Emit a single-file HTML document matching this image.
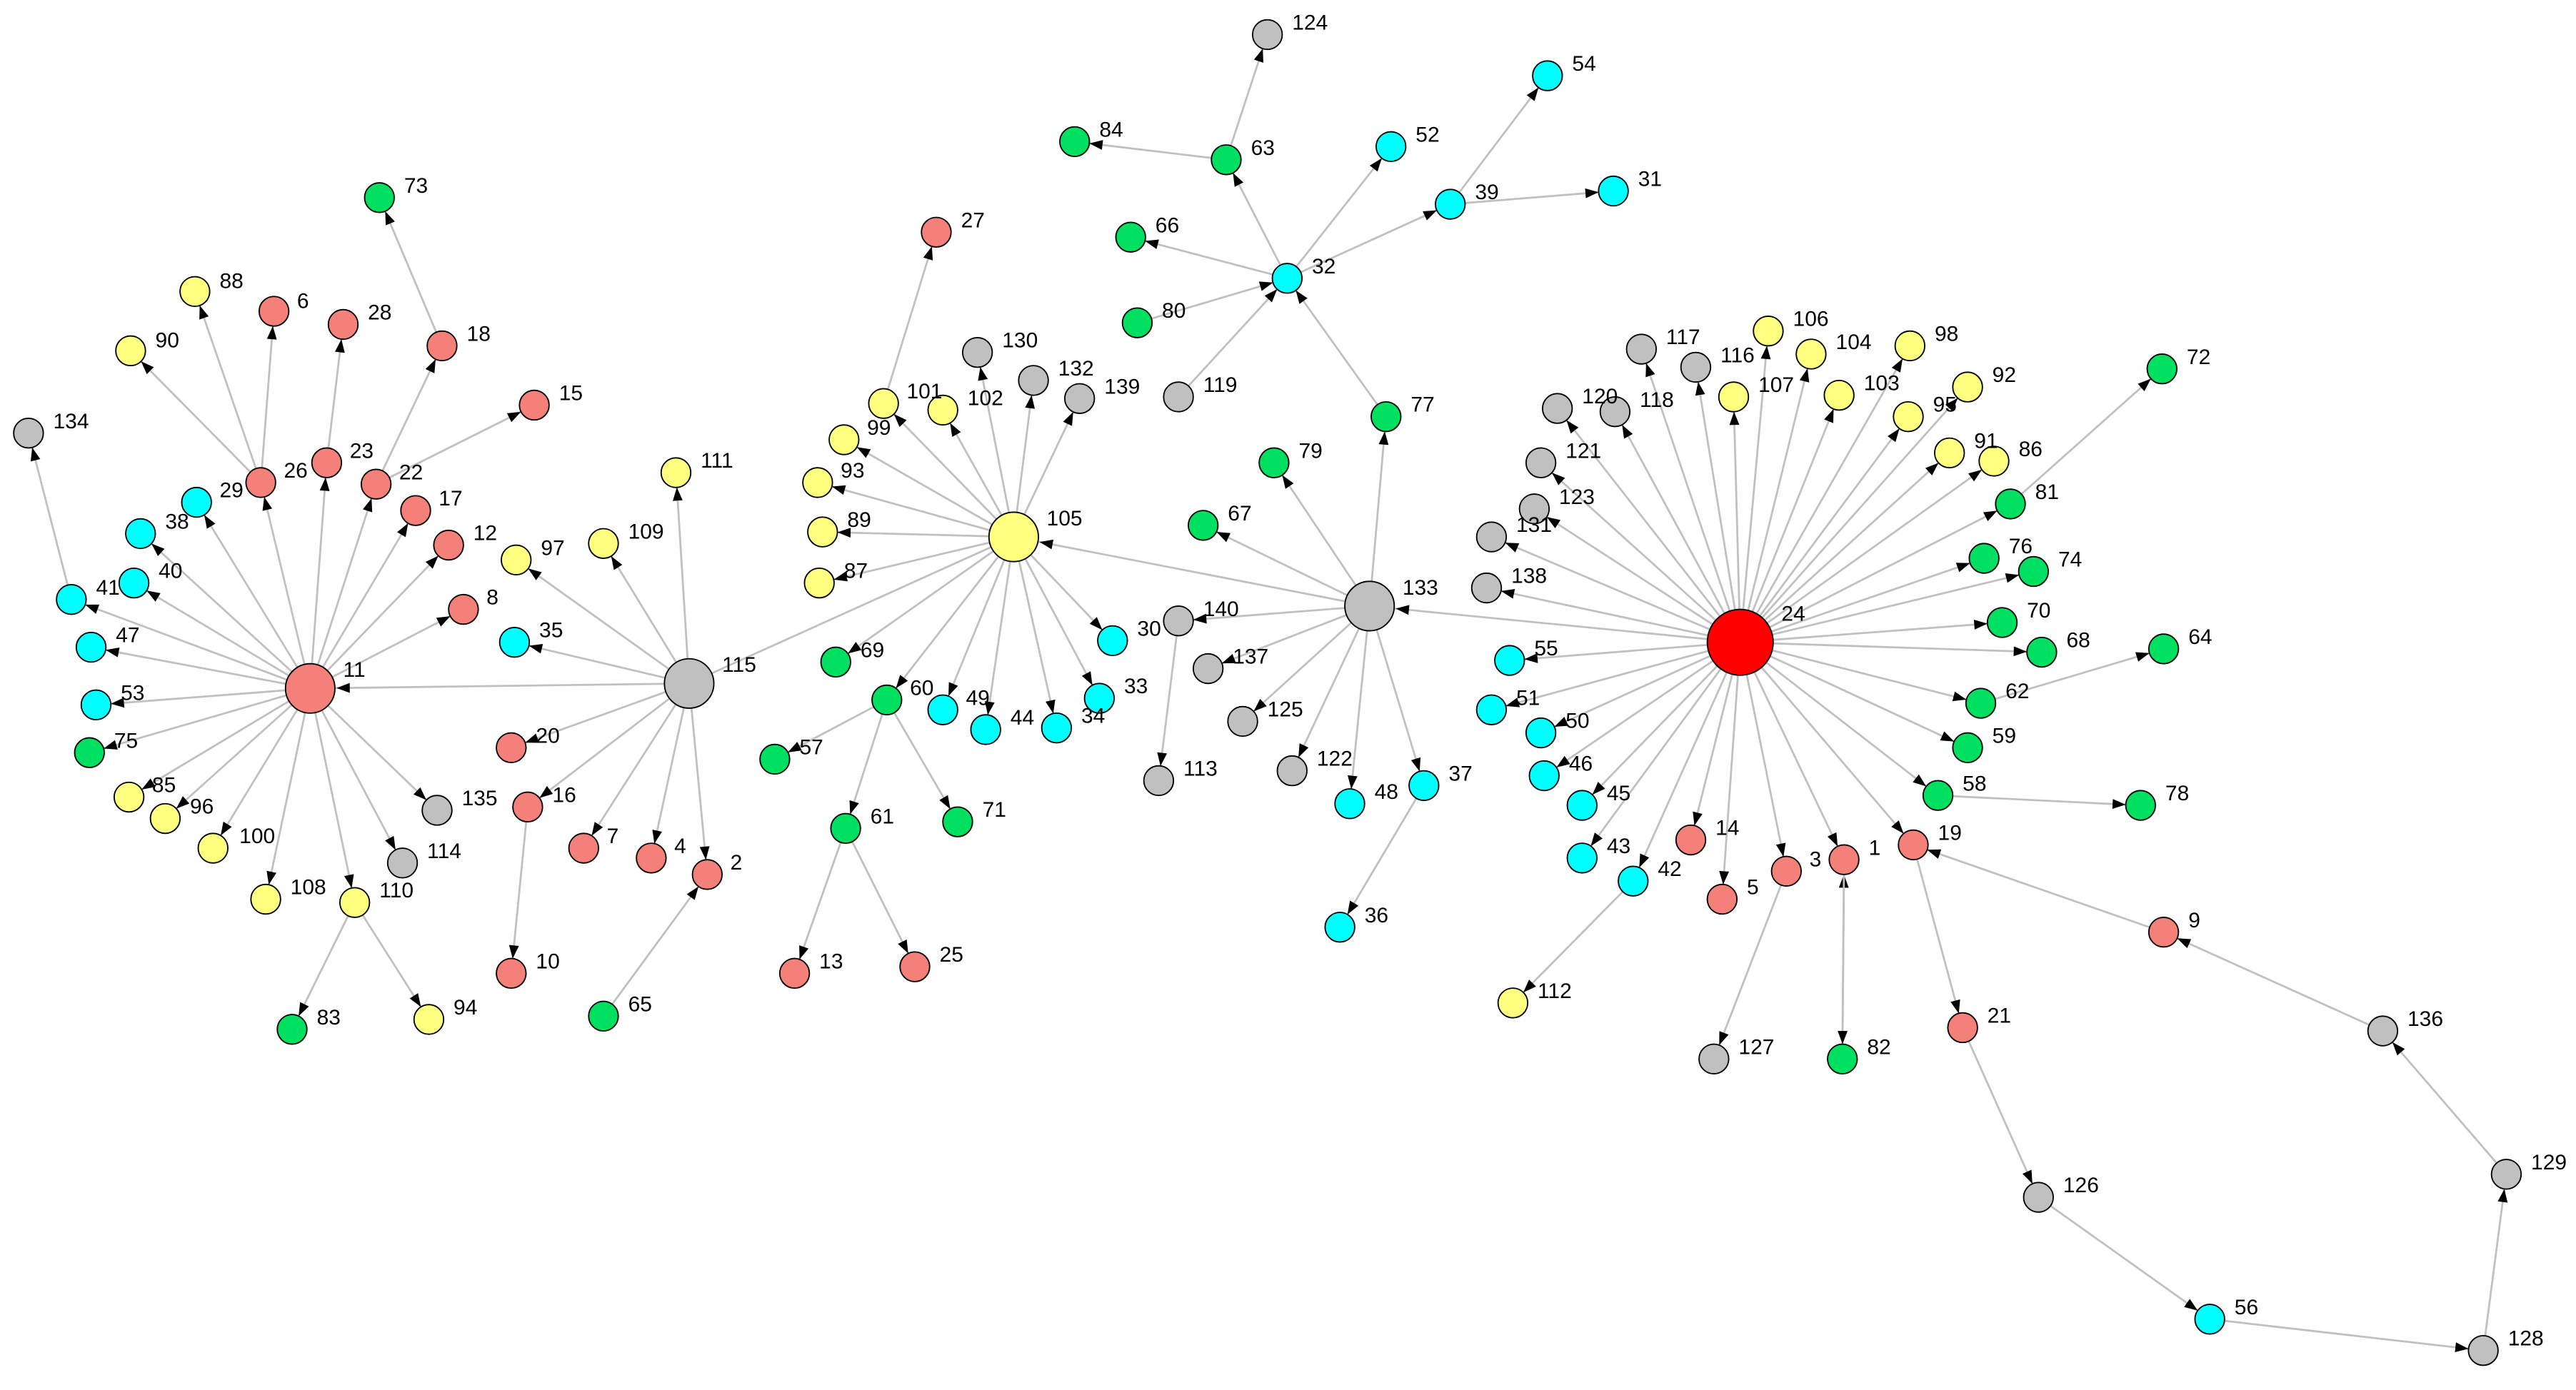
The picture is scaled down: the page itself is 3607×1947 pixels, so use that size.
<!DOCTYPE html>
<html><head><meta charset="utf-8"><style>
html,body{margin:0;padding:0;background:#fff;}
svg{display:block}
text{font-family:"Liberation Sans",sans-serif;font-size:13px;fill:#000}
line{stroke:#c0c0c0;stroke-width:1.2}
circle{stroke:#000;stroke-width:0.8}
.s{fill:#f4807a}.y{fill:#ffff80}.c{fill:#00ffff}.g{fill:#00e060}.k{fill:#c0c0c0}.r{fill:#ff0000}
</style></head><body>
<svg width="3607" height="1947" viewBox="0 0 1563 844" xmlns="http://www.w3.org/2000/svg">
<defs>
<marker id="a" markerUnits="userSpaceOnUse" markerWidth="8" markerHeight="7" refX="17" refY="3" orient="auto" overflow="visible"><path d="M0,0L8,3L0,6z" fill="#000"/></marker>
<marker id="b" markerUnits="userSpaceOnUse" markerWidth="8" markerHeight="7" refX="24" refY="3" orient="auto" overflow="visible"><path d="M0,0L8,3L0,6z" fill="#000"/></marker>
</defs>
<g marker-end="url(#a)">
<line x1="188" y1="418" x2="158" y2="293"/><line x1="188" y1="418" x2="198" y2="281"/><line x1="188" y1="418" x2="228" y2="294"/>
<line x1="188" y1="418" x2="252" y2="310"/><line x1="188" y1="418" x2="272" y2="331"/><line x1="188" y1="418" x2="281" y2="370"/>
<line x1="188" y1="418" x2="119" y2="305"/><line x1="188" y1="418" x2="85" y2="324"/><line x1="188" y1="418" x2="81" y2="354"/>
<line x1="188" y1="418" x2="43" y2="364"/><line x1="188" y1="418" x2="55" y2="393"/><line x1="188" y1="418" x2="58" y2="428"/>
<line x1="188" y1="418" x2="54" y2="457"/><line x1="188" y1="418" x2="78" y2="484"/><line x1="188" y1="418" x2="100" y2="497"/>
<line x1="188" y1="418" x2="129" y2="515"/><line x1="188" y1="418" x2="161" y2="546"/><line x1="188" y1="418" x2="215" y2="548"/>
<line x1="188" y1="418" x2="244" y2="524"/><line x1="188" y1="418" x2="265" y2="492"/>
<line x1="158" y1="293" x2="118" y2="177"/><line x1="158" y1="293" x2="166" y2="189"/><line x1="158" y1="293" x2="79" y2="213"/>
<line x1="198" y1="281" x2="208" y2="197"/><line x1="228" y1="294" x2="268" y2="210"/><line x1="228" y1="294" x2="324" y2="246"/>
<line x1="268" y1="210" x2="230" y2="120"/><line x1="43" y1="364" x2="17" y2="263"/>
<line x1="215" y1="548" x2="177" y2="625"/><line x1="215" y1="548" x2="260" y2="619"/>
<line x1="418" y1="415" x2="410" y2="287"/><line x1="418" y1="415" x2="366" y2="330"/><line x1="418" y1="415" x2="313" y2="340"/>
<line x1="418" y1="415" x2="312" y2="390"/><line x1="418" y1="415" x2="310" y2="454"/><line x1="418" y1="415" x2="320" y2="490"/>
<line x1="418" y1="415" x2="354" y2="515"/><line x1="418" y1="415" x2="395" y2="521"/><line x1="418" y1="415" x2="429" y2="531"/>
<line x1="320" y1="490" x2="310" y2="591"/><line x1="366" y1="617" x2="429" y2="531"/>
<line x1="615" y1="326" x2="536" y2="245"/><line x1="615" y1="326" x2="572" y2="249"/><line x1="615" y1="326" x2="593" y2="214"/>
<line x1="615" y1="326" x2="627" y2="231"/><line x1="615" y1="326" x2="655" y2="242"/><line x1="615" y1="326" x2="512" y2="267"/>
<line x1="615" y1="326" x2="496" y2="293"/><line x1="615" y1="326" x2="499" y2="323"/><line x1="615" y1="326" x2="497" y2="354"/>
<line x1="615" y1="326" x2="507" y2="402"/><line x1="615" y1="326" x2="538" y2="425"/><line x1="615" y1="326" x2="572" y2="431"/>
<line x1="615" y1="326" x2="598" y2="443"/><line x1="615" y1="326" x2="641" y2="442"/><line x1="615" y1="326" x2="667" y2="424"/>
<line x1="615" y1="326" x2="675" y2="389"/>
<line x1="536" y1="245" x2="568" y2="141"/><line x1="538" y1="425" x2="470" y2="461"/><line x1="538" y1="425" x2="513" y2="503"/>
<line x1="538" y1="425" x2="581" y2="499"/><line x1="513" y1="503" x2="482" y2="591"/><line x1="513" y1="503" x2="555" y2="587"/>
<line x1="831" y1="368" x2="773" y2="281"/><line x1="831" y1="368" x2="730" y2="319"/><line x1="831" y1="368" x2="841" y2="253"/>
<line x1="831" y1="368" x2="715" y2="377"/><line x1="831" y1="368" x2="733" y2="406"/><line x1="831" y1="368" x2="754" y2="438"/>
<line x1="831" y1="368" x2="784" y2="468"/><line x1="831" y1="368" x2="819" y2="488"/><line x1="831" y1="368" x2="864" y2="477"/>
<line x1="715" y1="377" x2="703" y2="474"/><line x1="864" y1="477" x2="813" y2="563"/><line x1="841" y1="253" x2="781" y2="169"/>
<line x1="781" y1="169" x2="880" y2="124"/><line x1="781" y1="169" x2="844" y2="89"/><line x1="781" y1="169" x2="686" y2="144"/>
<line x1="781" y1="169" x2="744" y2="97"/><line x1="690" y1="196" x2="781" y2="169"/><line x1="715" y1="241" x2="781" y2="169"/>
<line x1="744" y1="97" x2="769" y2="21"/><line x1="744" y1="97" x2="652" y2="86"/>
<line x1="880" y1="124" x2="939" y2="46"/><line x1="880" y1="124" x2="979" y2="116"/>
<line x1="1056" y1="390" x2="996" y2="212"/><line x1="1056" y1="390" x2="1029" y2="223"/><line x1="1056" y1="390" x2="1073" y2="201"/>
<line x1="1056" y1="390" x2="1099" y2="215"/><line x1="1056" y1="390" x2="1159" y2="210"/><line x1="1056" y1="390" x2="1194" y2="235"/>
<line x1="1056" y1="390" x2="1052" y2="241"/><line x1="1056" y1="390" x2="1116" y2="240"/><line x1="1056" y1="390" x2="1158" y2="253"/>
<line x1="1056" y1="390" x2="945" y2="248"/><line x1="1056" y1="390" x2="980" y2="250"/><line x1="1056" y1="390" x2="935" y2="281"/>
<line x1="1056" y1="390" x2="931" y2="309"/><line x1="1056" y1="390" x2="905" y2="326"/><line x1="1056" y1="390" x2="902" y2="357"/>
<line x1="1056" y1="390" x2="1183" y2="275"/><line x1="1056" y1="390" x2="1210" y2="280"/><line x1="1056" y1="390" x2="1220" y2="306"/>
<line x1="1056" y1="390" x2="1204" y2="339"/><line x1="1056" y1="390" x2="1234" y2="347"/><line x1="1056" y1="390" x2="1215" y2="378"/>
<line x1="1056" y1="390" x2="1239" y2="396"/><line x1="1056" y1="390" x2="1202" y2="427"/><line x1="1056" y1="390" x2="1194" y2="454"/>
<line x1="1056" y1="390" x2="1176" y2="483"/><line x1="1056" y1="390" x2="1161" y2="513"/><line x1="1056" y1="390" x2="1119" y2="522"/>
<line x1="1056" y1="390" x2="1084" y2="529"/><line x1="1056" y1="390" x2="1026" y2="510"/><line x1="1056" y1="390" x2="1045" y2="546"/>
<line x1="1056" y1="390" x2="991" y2="535"/><line x1="1056" y1="390" x2="960" y2="521"/><line x1="1056" y1="390" x2="960" y2="489"/>
<line x1="1056" y1="390" x2="937" y2="471"/><line x1="1056" y1="390" x2="935" y2="445"/><line x1="1056" y1="390" x2="905" y2="431"/>
<line x1="1056" y1="390" x2="916" y2="401"/>
<line x1="1220" y1="306" x2="1312" y2="224"/><line x1="1202" y1="427" x2="1313" y2="394"/><line x1="1176" y1="483" x2="1299" y2="489"/>
<line x1="991" y1="535" x2="918" y2="609"/><line x1="1084" y1="529" x2="1040" y2="643"/><line x1="1118" y1="643" x2="1119" y2="522"/>
<line x1="1161" y1="513" x2="1191" y2="624"/><line x1="1191" y1="624" x2="1237" y2="727"/><line x1="1237" y1="727" x2="1341" y2="801"/>
<line x1="1341" y1="801" x2="1507" y2="820"/><line x1="1507" y1="820" x2="1521" y2="713"/><line x1="1521" y1="713" x2="1446" y2="626"/>
<line x1="1446" y1="626" x2="1313" y2="566"/><line x1="1313" y1="566" x2="1161" y2="513"/>
</g>
<line x1="418" y1="415" x2="188" y2="418" marker-end="url(#b)"/>
<line x1="418" y1="415" x2="615" y2="326"/>
<line x1="831" y1="368" x2="615" y2="326" marker-end="url(#b)"/>
<line x1="1056" y1="390" x2="831" y2="368" marker-end="url(#b)"/>
<line x1="1119" y1="522" x2="1118" y2="643" marker-end="url(#a)"/>

<g>
<circle class="s" cx="188" cy="418" r="15"/><circle class="k" cx="418" cy="415" r="15"/><circle class="y" cx="615" cy="326" r="15"/>
<circle class="k" cx="831" cy="368" r="15"/><circle class="r" cx="1056" cy="390" r="20"/>
</g>
<g>
<circle class="g" cx="230" cy="120" r="9"/><circle class="y" cx="118" cy="177" r="9"/><circle class="s" cx="166" cy="189" r="9"/>
<circle class="s" cx="208" cy="197" r="9"/><circle class="s" cx="268" cy="210" r="9"/><circle class="y" cx="79" cy="213" r="9"/>
<circle class="s" cx="324" cy="246" r="9"/><circle class="k" cx="17" cy="263" r="9"/><circle class="s" cx="198" cy="281" r="9"/>
<circle class="s" cx="158" cy="293" r="9"/><circle class="s" cx="228" cy="294" r="9"/><circle class="c" cx="119" cy="305" r="9"/>
<circle class="s" cx="252" cy="310" r="9"/><circle class="c" cx="85" cy="324" r="9"/><circle class="s" cx="272" cy="331" r="9"/>
<circle class="c" cx="81" cy="354" r="9"/><circle class="c" cx="43" cy="364" r="9"/><circle class="s" cx="281" cy="370" r="9"/>
<circle class="c" cx="55" cy="393" r="9"/><circle class="c" cx="58" cy="428" r="9"/><circle class="g" cx="54" cy="457" r="9"/>
<circle class="y" cx="78" cy="484" r="9"/><circle class="y" cx="100" cy="497" r="9"/><circle class="y" cx="129" cy="515" r="9"/>
<circle class="k" cx="265" cy="492" r="9"/><circle class="k" cx="244" cy="524" r="9"/><circle class="y" cx="161" cy="546" r="9"/>
<circle class="y" cx="215" cy="548" r="9"/><circle class="g" cx="177" cy="625" r="9"/><circle class="y" cx="260" cy="619" r="9"/>
<circle class="y" cx="410" cy="287" r="9"/><circle class="y" cx="366" cy="330" r="9"/><circle class="y" cx="313" cy="340" r="9"/>
<circle class="c" cx="312" cy="390" r="9"/><circle class="s" cx="310" cy="454" r="9"/><circle class="s" cx="320" cy="490" r="9"/>
<circle class="s" cx="354" cy="515" r="9"/><circle class="s" cx="395" cy="521" r="9"/><circle class="s" cx="429" cy="531" r="9"/>
<circle class="s" cx="310" cy="591" r="9"/><circle class="g" cx="366" cy="617" r="9"/>
<circle class="s" cx="568" cy="141" r="9"/><circle class="k" cx="593" cy="214" r="9"/><circle class="k" cx="627" cy="231" r="9"/>
<circle class="k" cx="655" cy="242" r="9"/><circle class="y" cx="536" cy="245" r="9"/><circle class="y" cx="572" cy="249" r="9"/>
<circle class="y" cx="512" cy="267" r="9"/><circle class="y" cx="496" cy="293" r="9"/><circle class="y" cx="499" cy="323" r="9"/>
<circle class="y" cx="497" cy="354" r="9"/><circle class="g" cx="507" cy="402" r="9"/><circle class="g" cx="538" cy="425" r="9"/>
<circle class="g" cx="470" cy="461" r="9"/><circle class="c" cx="572" cy="431" r="9"/><circle class="c" cx="598" cy="443" r="9"/>
<circle class="c" cx="641" cy="442" r="9"/><circle class="c" cx="667" cy="424" r="9"/><circle class="c" cx="675" cy="389" r="9"/>
<circle class="g" cx="513" cy="503" r="9"/><circle class="g" cx="581" cy="499" r="9"/><circle class="s" cx="482" cy="591" r="9"/>
<circle class="s" cx="555" cy="587" r="9"/>
<circle class="k" cx="715" cy="377" r="9"/><circle class="k" cx="733" cy="406" r="9"/><circle class="k" cx="703" cy="474" r="9"/>
<circle class="k" cx="754" cy="438" r="9"/><circle class="k" cx="784" cy="468" r="9"/><circle class="c" cx="819" cy="488" r="9"/>
<circle class="c" cx="864" cy="477" r="9"/><circle class="c" cx="813" cy="563" r="9"/><circle class="g" cx="773" cy="281" r="9"/>
<circle class="g" cx="730" cy="319" r="9"/><circle class="g" cx="841" cy="253" r="9"/><circle class="c" cx="781" cy="169" r="9"/>
<circle class="c" cx="880" cy="124" r="9"/><circle class="c" cx="844" cy="89" r="9"/><circle class="g" cx="686" cy="144" r="9"/>
<circle class="g" cx="690" cy="196" r="9"/><circle class="k" cx="715" cy="241" r="9"/><circle class="g" cx="744" cy="97" r="9"/>
<circle class="k" cx="769" cy="21" r="9"/><circle class="g" cx="652" cy="86" r="9"/><circle class="c" cx="939" cy="46" r="9"/>
<circle class="c" cx="979" cy="116" r="9"/>
<circle class="k" cx="996" cy="212" r="9"/><circle class="k" cx="1029" cy="223" r="9"/><circle class="y" cx="1073" cy="201" r="9"/>
<circle class="y" cx="1099" cy="215" r="9"/><circle class="y" cx="1159" cy="210" r="9"/><circle class="y" cx="1194" cy="235" r="9"/>
<circle class="y" cx="1052" cy="241" r="9"/><circle class="y" cx="1116" cy="240" r="9"/><circle class="y" cx="1158" cy="253" r="9"/>
<circle class="k" cx="945" cy="248" r="9"/><circle class="k" cx="980" cy="250" r="9"/><circle class="k" cx="935" cy="281" r="9"/>
<circle class="k" cx="931" cy="309" r="9"/><circle class="k" cx="905" cy="326" r="9"/><circle class="k" cx="902" cy="357" r="9"/>
<circle class="y" cx="1183" cy="275" r="9"/><circle class="y" cx="1210" cy="280" r="9"/><circle class="g" cx="1312" cy="224" r="9"/>
<circle class="g" cx="1220" cy="306" r="9"/><circle class="g" cx="1204" cy="339" r="9"/><circle class="g" cx="1234" cy="347" r="9"/>
<circle class="g" cx="1215" cy="378" r="9"/><circle class="g" cx="1239" cy="396" r="9"/><circle class="g" cx="1313" cy="394" r="9"/>
<circle class="g" cx="1202" cy="427" r="9"/><circle class="g" cx="1194" cy="454" r="9"/><circle class="g" cx="1176" cy="483" r="9"/>
<circle class="g" cx="1299" cy="489" r="9"/><circle class="s" cx="1161" cy="513" r="9"/><circle class="s" cx="1119" cy="522" r="9"/>
<circle class="s" cx="1084" cy="529" r="9"/><circle class="s" cx="1026" cy="510" r="9"/><circle class="s" cx="1045" cy="546" r="9"/>
<circle class="c" cx="991" cy="535" r="9"/><circle class="c" cx="960" cy="521" r="9"/><circle class="c" cx="960" cy="489" r="9"/>
<circle class="c" cx="937" cy="471" r="9"/><circle class="c" cx="935" cy="445" r="9"/><circle class="c" cx="905" cy="431" r="9"/>
<circle class="c" cx="916" cy="401" r="9"/><circle class="y" cx="918" cy="609" r="9"/><circle class="k" cx="1040" cy="643" r="9"/>
<circle class="g" cx="1118" cy="643" r="9"/><circle class="s" cx="1191" cy="624" r="9"/><circle class="s" cx="1313" cy="566" r="9"/>
<circle class="k" cx="1446" cy="626" r="9"/><circle class="k" cx="1521" cy="713" r="9"/><circle class="k" cx="1507" cy="820" r="9"/>
<circle class="c" cx="1341" cy="801" r="9"/><circle class="k" cx="1237" cy="727" r="9"/>
</g>
<g>
<text x="208" y="411">11</text><text x="438" y="408">115</text><text x="635" y="319">105</text><text x="851" y="361">133</text><text x="1081" y="377">24</text>
<text x="245" y="117">73</text><text x="133" y="175">88</text><text x="180" y="187">6</text><text x="223" y="194">28</text><text x="283" y="207">18</text>
<text x="94" y="211">90</text><text x="339" y="243">15</text><text x="32" y="260">134</text><text x="212" y="278">23</text><text x="172" y="290">26</text>
<text x="242" y="291">22</text><text x="133" y="302">29</text><text x="266" y="307">17</text><text x="100" y="321">38</text><text x="287" y="328">12</text>
<text x="96" y="351">40</text><text x="58" y="361">41</text><text x="295" y="367">8</text><text x="70" y="390">47</text><text x="73" y="425">53</text>
<text x="69" y="454">75</text><text x="92" y="481">85</text><text x="115" y="494">96</text><text x="145" y="512">100</text><text x="280" y="489">135</text>
<text x="259" y="521">114</text><text x="176" y="543">108</text><text x="230" y="545">110</text><text x="192" y="622">83</text><text x="275" y="616">94</text>
<text x="425" y="284">111</text><text x="381" y="327">109</text><text x="328" y="337">97</text><text x="327" y="387">35</text><text x="325" y="451">20</text>
<text x="335" y="487">16</text><text x="368" y="512">7</text><text x="409" y="518">4</text><text x="443" y="528">2</text><text x="325" y="588">10</text>
<text x="381" y="614">65</text>
<text x="583" y="138">27</text><text x="608" y="211">130</text><text x="642" y="228">132</text><text x="670" y="239">139</text><text x="550" y="242">101</text>
<text x="587" y="246">102</text><text x="526" y="264">99</text><text x="510" y="290">93</text><text x="514" y="320">89</text><text x="512" y="351">87</text>
<text x="522" y="399">69</text><text x="552" y="422">60</text><text x="485" y="458">57</text><text x="586" y="428">49</text><text x="613" y="440">44</text>
<text x="656" y="439">34</text><text x="682" y="421">33</text><text x="690" y="386">30</text><text x="528" y="500">61</text><text x="596" y="496">71</text>
<text x="497" y="588">13</text><text x="570" y="584">25</text>
<text x="730" y="374">140</text><text x="748" y="403">137</text><text x="718" y="471">113</text><text x="769" y="435">125</text><text x="799" y="465">122</text>
<text x="834" y="485">48</text><text x="879" y="474">37</text><text x="828" y="560">36</text><text x="788" y="278">79</text><text x="745" y="316">67</text>
<text x="856" y="250">77</text><text x="796" y="166">32</text><text x="895" y="121">39</text><text x="859" y="86">52</text><text x="701" y="141">66</text>
<text x="705" y="193">80</text><text x="730" y="238">119</text><text x="759" y="94">63</text><text x="784" y="18">124</text><text x="667" y="83">84</text>
<text x="954" y="43">54</text><text x="994" y="113">31</text>
<text x="1011" y="209">117</text><text x="1044" y="220">116</text><text x="1088" y="198">106</text><text x="1114" y="212">104</text><text x="1174" y="207">98</text>
<text x="1209" y="232">92</text><text x="1067" y="238">107</text><text x="1131" y="237">103</text><text x="1173" y="250">95</text><text x="960" y="245">120</text>
<text x="995" y="247">118</text><text x="950" y="278">121</text><text x="946" y="306">123</text><text x="920" y="323">131</text><text x="917" y="354">138</text>
<text x="1198" y="272">91</text><text x="1225" y="277">86</text><text x="1327" y="221">72</text><text x="1235" y="303">81</text><text x="1219" y="336">76</text>
<text x="1249" y="344">74</text><text x="1230" y="375">70</text><text x="1254" y="393">68</text><text x="1328" y="391">64</text><text x="1217" y="424">62</text>
<text x="1209" y="451">59</text><text x="1191" y="480">58</text><text x="1314" y="486">78</text><text x="1176" y="510">19</text><text x="1134" y="519">1</text>
<text x="1098" y="526">3</text><text x="1041" y="507">14</text><text x="1060" y="543">5</text><text x="1006" y="532">42</text><text x="975" y="518">43</text>
<text x="975" y="486">45</text><text x="952" y="468">46</text><text x="950" y="442">50</text><text x="920" y="428">51</text><text x="931" y="398">55</text>
<text x="933" y="606">112</text><text x="1055" y="640">127</text><text x="1133" y="640">82</text><text x="1206" y="621">21</text><text x="1328" y="563">9</text>
<text x="1461" y="623">136</text><text x="1536" y="710">129</text><text x="1522" y="817">128</text><text x="1356" y="798">56</text><text x="1252" y="724">126</text>
</g>
</svg>
</body></html>
